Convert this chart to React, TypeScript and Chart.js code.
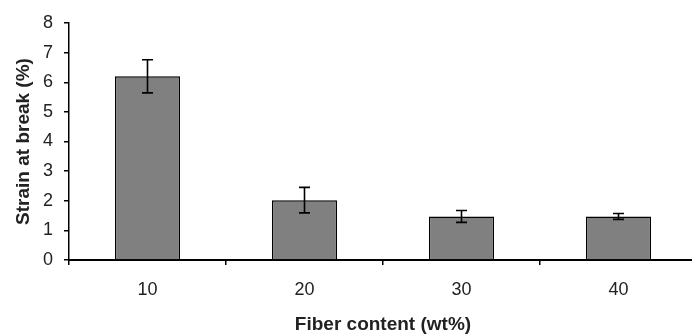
import React, { useEffect, useRef } from "react";
import { Chart, registerables } from "chart.js";

Chart.register(...registerables);

const categories = ["10", "20", "30", "40"];
const strainValues = [6.2, 2.02, 1.47, 1.47];
const strainErrors = [0.56, 0.43, 0.2, 0.1];
const yTicks = [0, 1, 2, 3, 4, 5, 6, 7, 8];

const errorBarPlugin = {
  id: "errorBars",
  afterDatasetsDraw(chart: any) {
    const ctx = chart.ctx;
    const meta = chart.getDatasetMeta(0);
    const yScale = chart.scales.y;
    ctx.save();
    ctx.strokeStyle = "#000";
    ctx.lineWidth = 1.6;
    meta.data.forEach((bar: any, i: number) => {
      const v = strainValues[i];
      const e = strainErrors[i];
      const x = bar.x;
      const yt = yScale.getPixelForValue(v + e);
      const yb = yScale.getPixelForValue(v - e);
      const cap = 5.5;
      ctx.beginPath();
      ctx.moveTo(x, yt);
      ctx.lineTo(x, yb);
      ctx.moveTo(x - cap, yt);
      ctx.lineTo(x + cap, yt);
      ctx.moveTo(x - cap, yb);
      ctx.lineTo(x + cap, yb);
      ctx.stroke();
    });
    ctx.restore();
  },
};

export default function App() {
  const ref = useRef<HTMLCanvasElement>(null);
  useEffect(() => {
    document.body.style.margin = "0";
    document.body.style.overflow = "hidden";
    const canvas = ref.current!;
    const chart = new Chart(canvas, {
      type: "bar",
      data: {
        labels: categories,
        datasets: [
          {
            data: strainValues,
            backgroundColor: "#808080",
            borderColor: "#000",
            borderWidth: 1.5,
            barPercentage: 0.415,
            categoryPercentage: 1,
          },
        ],
      },
      options: {
        animation: false,
        responsive: false,
        devicePixelRatio: 1,
        layout: { padding: { top: 23, right: 3, left: 0, bottom: 0 } },
        plugins: { legend: { display: false }, tooltip: { enabled: false } },
        scales: {
          x: {
            afterFit: (s: any) => {
              s.height = 74;
            },
            grid: {
              display: true,
              drawOnChartArea: false,
              drawTicks: true,
              tickLength: 5,
              color: "#000",
              lineWidth: 1.5,
              offset: true,
            },
            border: { display: true, color: "#000", width: 2 },
            ticks: {
              color: "#222",
              padding: 14,
              font: { family: "'Liberation Sans', Arial, sans-serif", size: 18 },
            },
            title: {
              display: true,
              text: "Fiber content (wt%)",
              color: "#222",
              padding: { top: 0, bottom: -2 },
              font: { family: "'Liberation Sans', Arial, sans-serif", size: 19, weight: "bold" },
            },
          },
          y: {
            min: 0,
            max: 8,
            afterFit: (s: any) => {
              s.width = 69;
            },
            afterBuildTicks: (s: any) => {
              s.ticks = yTicks.map((v) => ({ value: v }));
            },
            grid: {
              display: true,
              drawOnChartArea: false,
              drawTicks: true,
              tickLength: 5,
              color: "#000",
              lineWidth: 1.5,
            },
            border: { display: true, color: "#000", width: 1.5 },
            ticks: {
              color: "#222",
              padding: 11,
              stepSize: 1,
              font: { family: "'Liberation Sans', Arial, sans-serif", size: 18 },
            },
            title: {
              display: true,
              text: "Strain at break (%)",
              color: "#222",
              padding: { top: 12, bottom: 0 },
              font: { family: "'Liberation Sans', Arial, sans-serif", size: 19, weight: "bold" },
            },
          },
        },
      },
      plugins: [errorBarPlugin],
    });
    return () => chart.destroy();
  }, []);
  return (
    <div style={{ width: 692, height: 334, overflow: "hidden" }}>
      <canvas ref={ref} width={700} height={334} style={{ display: "block" }} />
    </div>
  );
}
